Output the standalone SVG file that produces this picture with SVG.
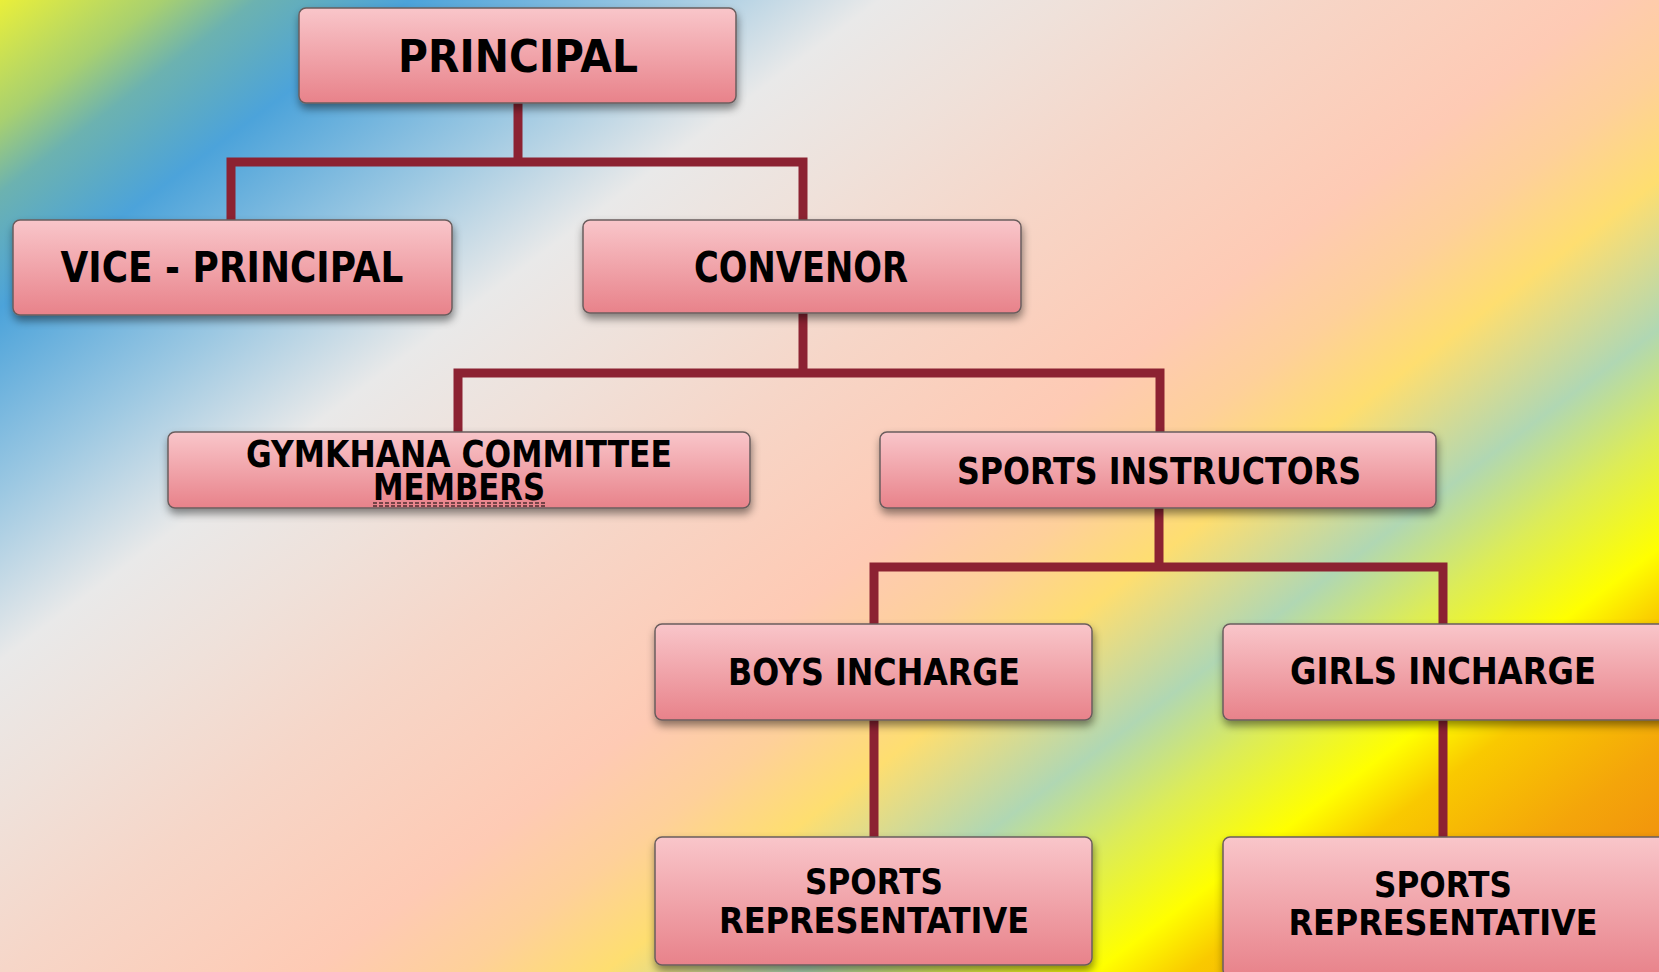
<svg xmlns="http://www.w3.org/2000/svg" width="1659" height="972" viewBox="0 0 1659 972">
<defs>
<linearGradient id="bg" gradientUnits="userSpaceOnUse" x1="0" y1="0" x2="1064" y2="1418">
<stop offset="0" stop-color="#e9ef3a"/>
<stop offset="0.055" stop-color="#a8d070"/>
<stop offset="0.087" stop-color="#6cb2b0"/>
<stop offset="0.139" stop-color="#4ca3da"/>
<stop offset="0.223" stop-color="#9cc8e2"/>
<stop offset="0.298" stop-color="#e9e9e9"/>
<stop offset="0.364" stop-color="#efe1da"/>
<stop offset="0.439" stop-color="#f6d6c8"/>
<stop offset="0.544" stop-color="#fecab4"/>
<stop offset="0.595" stop-color="#fed09a"/>
<stop offset="0.643" stop-color="#fede70"/>
<stop offset="0.71" stop-color="#b0d7b3"/>
<stop offset="0.757" stop-color="#dcec58"/>
<stop offset="0.809" stop-color="#ffff00"/>
<stop offset="0.841" stop-color="#f9c900"/>
<stop offset="0.90" stop-color="#f4a50a"/>
<stop offset="1" stop-color="#ee7c10"/>
</linearGradient>
<linearGradient id="box" x1="0" y1="0" x2="0" y2="1">
<stop offset="0" stop-color="#f9c6ca"/>
<stop offset="1" stop-color="#e8828a"/>
</linearGradient>
<filter id="sh" x="-10%" y="-20%" width="120%" height="150%">
<feDropShadow dx="1" dy="5" stdDeviation="4" flood-color="#000" flood-opacity="0.45"/>
</filter>
</defs>
<style>
.node rect{fill:url(#box);stroke:#6a5d5d;stroke-width:1.5;filter:url(#sh)}
.node text{font-family:"DejaVu Sans","Liberation Sans",sans-serif;font-weight:bold;fill:#000;text-anchor:middle}
.conn path{fill:none;stroke:#8c2232;stroke-width:9;stroke-linejoin:miter;stroke-linecap:butt}
</style>
<rect x="0" y="0" width="1659" height="972" fill="url(#bg)"/>
<g class="conn" id="connectors">
<path d="M518,103 V162"/>
<path d="M231,220 V162 H803 V220"/>
<path d="M803,313 V373"/>
<path d="M458,432 V373 H1160 V432"/>
<path d="M1159,508 V567"/>
<path d="M874,624 V567 H1443 V624"/>
<path d="M874,720 V837"/>
<path d="M1443,720 V837"/>
</g>
<g class="node" id="principal">
<rect x="299" y="8" width="437" height="95" rx="7"/>
<text x="518" y="72" font-size="45" textLength="240" lengthAdjust="spacingAndGlyphs">PRINCIPAL</text>
</g>
<g class="node" id="vice-principal">
<rect x="13" y="220" width="439" height="95" rx="7"/>
<text x="232" y="282" font-size="42" textLength="343" lengthAdjust="spacingAndGlyphs">VICE - PRINCIPAL</text>
</g>
<g class="node" id="convenor">
<rect x="583" y="220" width="438" height="93" rx="7"/>
<text x="801" y="282" font-size="42" textLength="214" lengthAdjust="spacingAndGlyphs">CONVENOR</text>
</g>
<g class="node" id="gymkhana">
<rect x="168" y="432" width="582" height="76" rx="7"/>
<text x="459" y="467" font-size="37" textLength="426" lengthAdjust="spacingAndGlyphs">GYMKHANA COMMITTEE</text>
<text x="459" y="500" font-size="37" textLength="172" lengthAdjust="spacingAndGlyphs">MEMBERS</text>
<line x1="373" y1="503" x2="546" y2="503" stroke="#000" stroke-width="1.2" stroke-dasharray="4,2"/>
<line x1="373" y1="506" x2="546" y2="506" stroke="#000" stroke-width="1.2" stroke-dasharray="4,2"/>
</g>
<g class="node" id="sports-instructors">
<rect x="880" y="432" width="556" height="76" rx="7"/>
<text x="1159" y="484" font-size="38" textLength="404" lengthAdjust="spacingAndGlyphs">SPORTS INSTRUCTORS</text>
</g>
<g class="node" id="boys-incharge">
<rect x="655" y="624" width="437" height="96" rx="7"/>
<text x="874" y="685" font-size="38" textLength="292" lengthAdjust="spacingAndGlyphs">BOYS INCHARGE</text>
</g>
<g class="node" id="girls-incharge">
<rect x="1223" y="624" width="445" height="96" rx="7"/>
<text x="1443" y="684" font-size="37" textLength="306" lengthAdjust="spacingAndGlyphs">GIRLS INCHARGE</text>
</g>
<g class="node" id="boys-sports-rep">
<rect x="655" y="837" width="437" height="128" rx="7"/>
<text x="874" y="894" font-size="35" textLength="138" lengthAdjust="spacingAndGlyphs">SPORTS</text>
<text x="874" y="933" font-size="35" textLength="310" lengthAdjust="spacingAndGlyphs">REPRESENTATIVE</text>
</g>
<g class="node" id="girls-sports-rep">
<rect x="1223" y="837" width="445" height="140" rx="7"/>
<text x="1443" y="897" font-size="35" textLength="138" lengthAdjust="spacingAndGlyphs">SPORTS</text>
<text x="1443" y="935" font-size="35" textLength="309" lengthAdjust="spacingAndGlyphs">REPRESENTATIVE</text>
</g>
</svg>
